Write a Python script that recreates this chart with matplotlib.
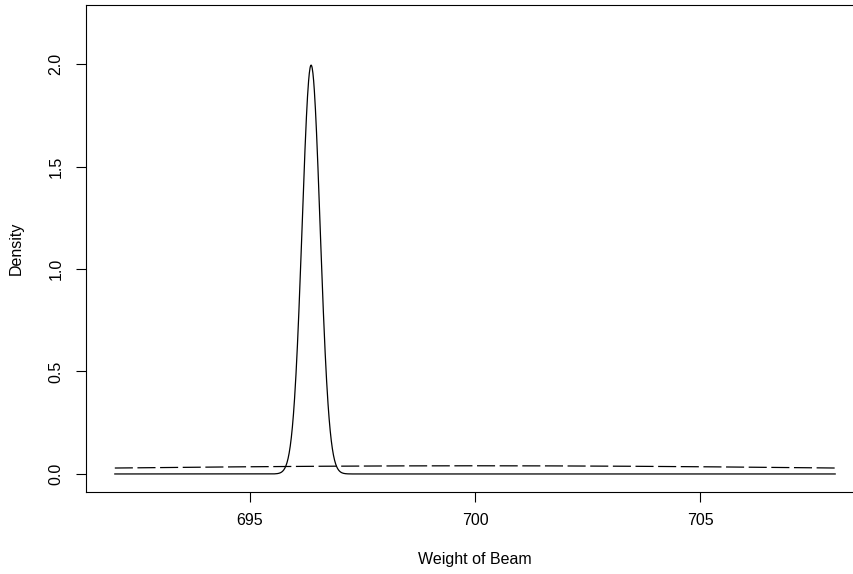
import numpy as np
import matplotlib
matplotlib.use("Agg")
import matplotlib.pyplot as plt

plt.rcParams['font.family'] = ['Liberation Sans', 'DejaVu Sans']
plt.rcParams['lines.scale_dashes'] = False

# weight range shown and the two normal densities
x_min, x_max = 692, 708
post_mean, post_sd = 696.36, 0.2     # solid curve
prior_mean, prior_sd = 700.0, 10.0   # dashed curve

x_ticks = [695, 700, 705]
y_ticks = [0.0, 0.5, 1.0, 1.5, 2.0]
y_tick_labels = ["0.0", "0.5", "1.0", "1.5", "2.0"]


def dnorm(x, m, s):
    return np.exp(-0.5 * ((x - m) / s) ** 2) / (s * np.sqrt(2 * np.pi))


x = np.linspace(x_min, x_max, 2001)

fig = plt.figure(figsize=(8.54, 5.74), dpi=100)
ax = fig.add_axes([86 / 854, 82 / 574, 778 / 854, 487 / 574])

ax.plot(x, dnorm(x, post_mean, post_sd), color='black', lw=0.9)
ax.plot(x, dnorm(x, prior_mean, prior_sd), color='black', lw=0.9,
        ls=(0, (13, 3.3)))

# R style 4% padding
xr = x_max - x_min
ax.set_xlim(x_min - 0.04 * xr, x_max + 0.04 * xr)
ax.set_ylim(-0.04 * 2.2, 2.2 * 1.04)

ax.set_xticks(x_ticks)
ax.set_yticks(y_ticks)
ax.set_yticklabels(y_tick_labels, rotation=90, va='center')
ax.tick_params(direction='out', length=7.2, width=0.8, labelsize=11.5)
ax.tick_params(axis='x', pad=8)
ax.tick_params(axis='y', pad=9)
for sp in ax.spines.values():
    sp.set_linewidth(0.8)

ax.set_xlabel('Weight of Beam', fontsize=11.5, labelpad=17)
ax.set_ylabel('Density', fontsize=11.5, labelpad=18)

fig.savefig('out.png', dpi=100)
